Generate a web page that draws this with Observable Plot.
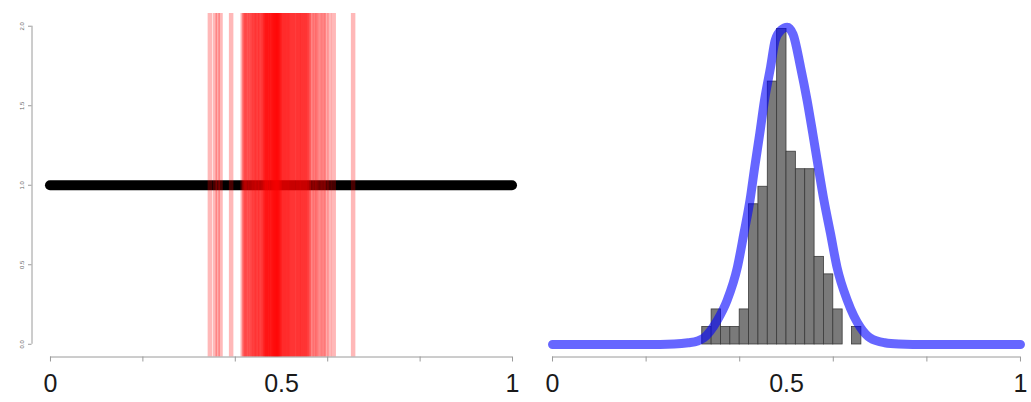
<!DOCTYPE html>
<html><head><meta charset="utf-8">
<script src="https://cdn.jsdelivr.net/npm/d3@7"></script>
<script src="https://cdn.jsdelivr.net/npm/@observablehq/plot@0.6"></script>
<style>
html,body{margin:0;padding:0;background:#fff;overflow:hidden;}
#wrap{position:relative;width:1031px;height:402px;overflow:hidden;background:#fff;}
#left,#right{position:absolute;top:0;}
#left{left:0;width:531px;}
#right{left:520px;width:519px;}
#wrap svg{max-width:none !important;}
</style></head>
<body><div id="wrap"><div id="left"></div><div id="right"></div></div>
<script>
// ---- data ----
const xTicks = [0, 0.2, 0.4, 0.6, 0.8, 1];
const xLabels = [0, 0.5, 1];
const yTicksLeft = [0, 0.5, 1, 1.5, 2];
const flatLineX = [0, 1];
const flatLineY = 1;
// sample draws shown as vertical red lines (left panel)
const drawSamples = [
  0.345, 0.356, 0.362, 0.368, 0.391,
  0.416, 0.419,
  0.421, 0.424, 0.426, 0.429, 0.432, 0.434, 0.437, 0.439,
  0.441, 0.443, 0.446, 0.447, 0.449, 0.452, 0.454, 0.456, 0.458,
  0.461, 0.462, 0.464, 0.465, 0.466, 0.467, 0.469, 0.470, 0.471, 0.473, 0.474, 0.475, 0.477, 0.478, 0.479,
  0.481, 0.482, 0.483, 0.484, 0.485, 0.486, 0.487, 0.488, 0.489, 0.490, 0.491, 0.492, 0.493, 0.494, 0.495, 0.496, 0.497, 0.499,
  0.501, 0.503, 0.504, 0.506, 0.508, 0.510, 0.512, 0.513, 0.515, 0.517, 0.519,
  0.521, 0.523, 0.525, 0.527, 0.529, 0.531, 0.533, 0.536, 0.537, 0.539,
  0.541, 0.543, 0.545, 0.547, 0.549, 0.551, 0.553, 0.555, 0.557, 0.559,
  0.562, 0.566, 0.571, 0.574, 0.578,
  0.583, 0.588, 0.592, 0.597,
  0.604, 0.613,
  0.655
];
// histogram (right panel)
const binStarts = [0.32, 0.34, 0.36, 0.38, 0.40, 0.42, 0.44, 0.46, 0.48, 0.50, 0.52, 0.54, 0.56, 0.58, 0.60, 0.62, 0.64];
const binCounts = [1, 2, 1, 1, 2, 8, 9, 15, 18, 11, 10, 10, 5, 4, 2, 0, 1];
const binWidth = 0.02;
// fitted density curve (right panel)
const curveX = [0, 0.1, 0.2, 0.26, 0.29, 0.31, 0.323, 0.352, 0.373, 0.395, 0.409, 0.422, 0.432, 0.443, 0.453, 0.466, 0.476, 0.489, 0.5015, 0.514, 0.530, 0.544, 0.556, 0.568, 0.580, 0.594, 0.608, 0.630, 0.658, 0.679, 0.71, 0.74, 0.8, 0.9, 1];
const curveY = [0, 0, 0, 0.03, 0.1, 0.2, 0.37, 1.37, 2.51, 4.4, 6.34, 8.23, 10.11, 12.06, 13.94, 15.83, 17.37, 17.95, 18.1, 17.7, 15.83, 13.94, 12.06, 10.11, 8.23, 6.34, 4.4, 2.51, 0.97, 0.37, 0.1, 0.03, 0, 0, 0];

// ---- layout ----
const FONT = "'Liberation Sans', Arial, Helvetica, sans-serif";
const xDomain = [-0.04, 1.04];
const leftYDomain = [-0.08, 2.08];
const rightYDomain = [-0.714, 18.886];

const histData = binStarts.map((s, i) => ({x1: s, x2: s + binWidth, y: binCounts[i]})).filter(d => d.y > 0);
const curveData = curveX.map((x, i) => ({x, y: curveY[i]}));

function xAxisMarks(yBottom) {
  return [
    Plot.ruleY([yBottom], {x1: xTicks[0], x2: xTicks[xTicks.length - 1], stroke: "#9a9a9a", strokeWidth: 1}),
    Plot.axisX({ticks: xTicks, tickSize: 5, tickFormat: () => "", stroke: "#9a9a9a"}),
    Plot.axisX({ticks: xLabels, tickSize: 0, tickPadding: 17, tickFormat: d => String(d), fontSize: 25, fill: "#1a1a1a"})
  ];
}

const left = Plot.plot({
  width: 531, height: 402,
  marginLeft: 31.5, marginRight: 0.5, marginTop: 13, marginBottom: 45.5,
  style: {fontFamily: FONT, background: "transparent", overflow: "visible"},
  x: {domain: xDomain, range: [31.5, 530.5]},
  y: {domain: leftYDomain, range: [356.5, 13]},
  marks: [
    Plot.ruleY([flatLineY], {x1: flatLineX[0], x2: flatLineX[1], stroke: "black", strokeWidth: 10, strokeLinecap: "round"}),
    Plot.ruleX(drawSamples, {x: d => d, y1: leftYDomain[0], y2: leftYDomain[1], stroke: "red", strokeOpacity: 0.28, strokeWidth: 4.5}),
    Plot.ruleX([xDomain[0]], {y1: yTicksLeft[0], y2: yTicksLeft[yTicksLeft.length - 1], stroke: "#9a9a9a"}),
    Plot.axisY({ticks: yTicksLeft, tickSize: 3.5, tickPadding: 5, tickRotate: -90, tickFormat: d => d.toFixed(1), fontSize: 6, stroke: "#9a9a9a", fill: "#666"}),
    ...xAxisMarks(leftYDomain[0])
  ]
});
document.getElementById("left").appendChild(left);

const right = Plot.plot({
  width: 519, height: 402,
  marginLeft: 13.3, marginRight: 0.3, marginTop: 13, marginBottom: 45.5,
  style: {fontFamily: FONT, background: "transparent", overflow: "visible"},
  x: {domain: xDomain, range: [13.3, 518.7]},
  y: {domain: rightYDomain, range: [356.5, 13], axis: null},
  marks: [
    Plot.rectY(histData, {x1: "x1", x2: "x2", y: "y", fill: "#7a7a7a", stroke: "#3a3a3a", strokeWidth: 0.8, inset: 0}),
    Plot.line(curveData, {x: "x", y: "y", curve: "monotone-x", stroke: "blue", strokeOpacity: 0.6, strokeWidth: 9, strokeLinecap: "round", strokeLinejoin: "round"}),
    ...xAxisMarks(rightYDomain[0])
  ]
});
document.getElementById("right").appendChild(right);
</script>
</body></html>
